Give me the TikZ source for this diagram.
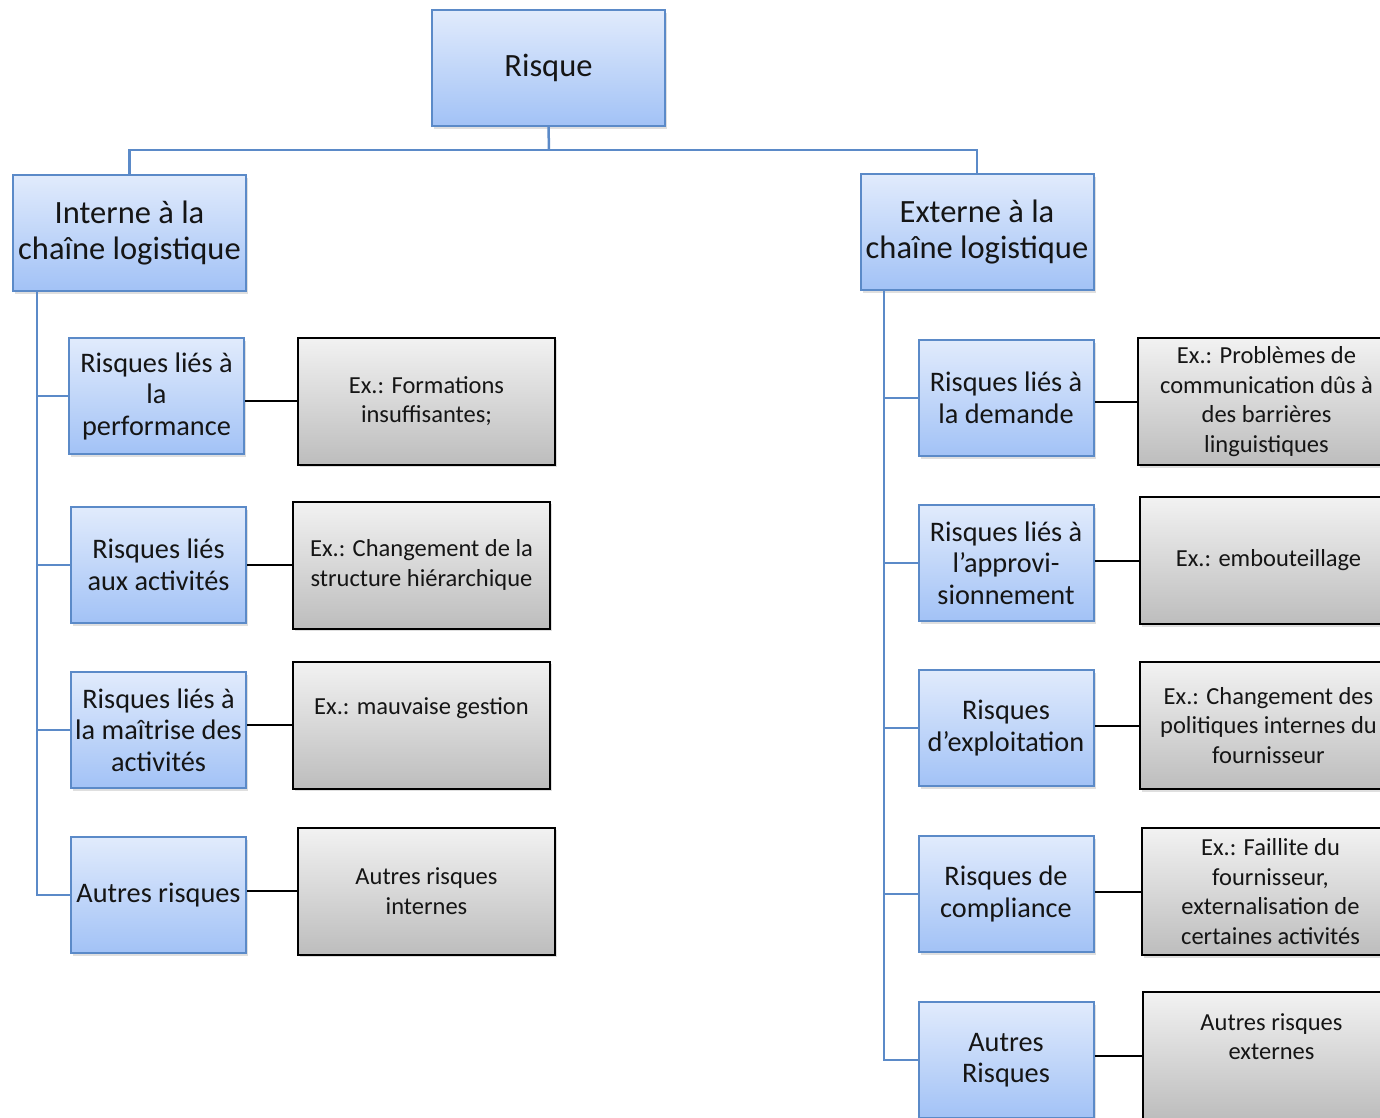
\documentclass[tikz,border=0pt]{standalone}
\usepackage{fontspec}
\setmainfont{Carlito}
\usetikzlibrary{shadows}
\definecolor{bborder}{HTML}{5B8AC8}
\definecolor{btop}{HTML}{E1EBFC}
\definecolor{bbot}{HTML}{A2C2F6}
\definecolor{gtop}{HTML}{F2F2F2}
\definecolor{gbot}{HTML}{BDBDBD}
\definecolor{txt}{HTML}{151515}
\tikzset{
  bluebox/.style={draw=bborder, line width=2pt, top color=btop, bottom color=bbot,
    minimum width=175pt, minimum height=116pt, inner sep=1pt, align=center, text=txt,
    font=\fontsize{28.3}{31.5}\selectfont,
    drop shadow={shadow xshift=2pt, shadow yshift=-2.5pt, opacity=.25}},
  bigbox/.style={bluebox, minimum width=233pt, font=\fontsize{32.5}{35.5}\selectfont},
  graybox/.style={draw=black, line width=2pt, top color=gtop, bottom color=gbot,
    minimum width=257pt, minimum height=127pt, inner sep=1pt, align=center, text=txt,
    font=\fontsize{24.5}{29.5}\selectfont,
    drop shadow={shadow xshift=2pt, shadow yshift=-2.5pt, opacity=.25}},
  bline/.style={draw=bborder, line width=2.5pt},
  kline/.style={draw=black, line width=2pt}
}
\begin{document}
\begin{tikzpicture}[x=1pt,y=-1pt]
\clip (0,0) rectangle (1380,1117);
\fill[white] (0,0) rectangle (1380,1117);

% top level
\node[bigbox] (risque) at (548.5,68) {Risque};
\node[bigbox] (interne) at (129.5,233) {Interne à la\\chaîne logistique};
\node[bigbox] (externe) at (977,232) {Externe à la\\chaîne logistique};

\coordinate (bus) at (549,150);
\draw[bline] (risque.south) -- (bus);
\draw[bline] (bus) -| (interne.north);
\draw[bline] (bus) -| (externe.north);

% left branch
\node[bluebox] (l1) at (156.5,396) {Risques liés à\\la\\performance};
\node[bluebox] (l2) at (158.5,565) {Risques liés\\aux activités};
\node[bluebox] (l3) at (158.5,730) {Risques liés à\\la maîtrise des\\activités};
\node[bluebox] (l4) at (158.5,895) {Autres risques};

\node[graybox] (g1) at (426.5,401) {Ex.: Formations\\insuffisantes;};
\node[graybox] (g2) at (421.5,565) {Ex.: Changement de la\\structure hiérarchique};
\node[graybox] (g3) at (421.5,725) {Ex.: mauvaise gestion\\ \strut};
\node[graybox] (g4) at (426.5,891) {Autres risques\\internes};

\coordinate (lt) at (37,291);
\foreach \n in {l1,l2,l3,l4} { \draw[bline] (lt) |- (\n.west); }
\draw[kline] (l1.east |- g1.west) -- (g1.west);
\draw[kline] (l2.east) -- (g2.west);
\draw[kline] (l3.east |- g3.west) -- (g3.west);
\draw[kline] (l4.east |- g4.west) -- (g4.west);

% right branch
\node[bluebox] (r1) at (1006,398) {Risques liés à\\la demande};
\node[bluebox] (r2) at (1006,563) {Risques liés à\\l’approvi-\\sionnement};
\node[bluebox] (r3) at (1006,728) {Risques\\d’exploitation};
\node[bluebox] (r4) at (1006,894) {Risques de\\compliance};
\node[bluebox] (r5) at (1006,1060) {Autres\\Risques};

\node[graybox] (h1) at (1266.5,401.5) {Ex.: Problèmes de\\communication dûs à\\des barrières\\linguistiques};
\node[graybox] (h2) at (1268.5,560.5) {Ex.: embouteillage};
\node[graybox] (h3) at (1268.5,725.5) {Ex.: Changement des\\politiques internes du\\fournisseur};
\node[graybox] (h4) at (1270.5,891.5) {Ex.: Faillite du\\fournisseur,\\externalisation de\\certaines activités};
\node[graybox] (h5) at (1271.5,1055.5) {Autres risques\\externes\\ \strut};

\coordinate (rt) at (884,290);
\foreach \n in {r1,r2,r3,r4,r5} { \draw[bline] (rt) |- (\n.west); }
\draw[kline] (r1.east |- h1.west) -- (h1.west);
\draw[kline] (r2.east |- h2.west) -- (h2.west);
\draw[kline] (r3.east |- h3.west) -- (h3.west);
\draw[kline] (r4.east |- h4.west) -- (h4.west);
\draw[kline] (r5.east |- h5.west) -- (h5.west);
\end{tikzpicture}
\end{document}
